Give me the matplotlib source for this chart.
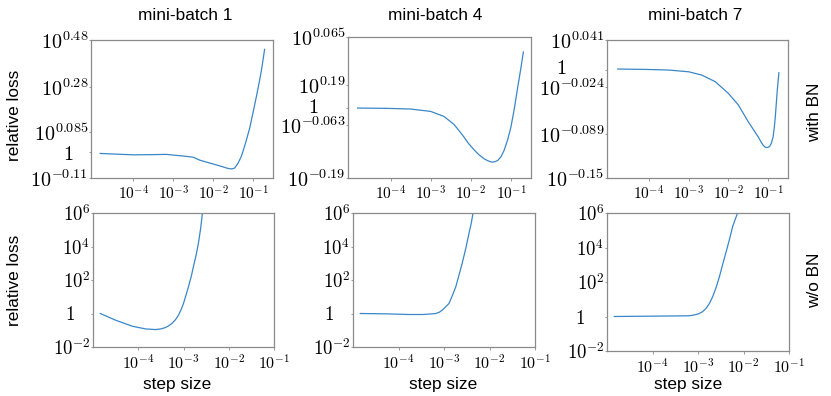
import numpy as np
import matplotlib
matplotlib.use("Agg")
import matplotlib.pyplot as plt
from matplotlib.transforms import ScaledTranslation

plt.rcParams["mathtext.fontset"] = "cm"
plt.rcParams["font.family"] = ["Liberation Sans", "DejaVu Sans"]

titles = ["mini-batch 1", "mini-batch 4", "mini-batch 7"]
row_labels = ["with BN", "w/o BN"]

# curves, as log10(step size) and log10(relative loss)
bn1_x = [-4.83, -4.0, -3.5, -3.17, -3.0, -2.75, -2.5, -2.33, -2.0, -1.8, -1.67, -1.6, -1.54, -1.5, -1.46, -1.42, -1.37,
         -1.3, -1.25, -1.17, -1.08, -1.0, -0.92, -0.85, -0.79, -0.71]
bn1_y = [-0.005, -0.011, -0.010, -0.009, -0.012, -0.016, -0.021, -0.034, -0.05, -0.06, -0.067, -0.070, -0.071, -0.070, -0.067, -0.058, -0.045,
         -0.02, 0.005, 0.05, 0.106, 0.17, 0.235, 0.295, 0.35, 0.44]
bn4_x = [-4.82, -4.08, -3.5, -3.0, -2.67, -2.42, -2.3, -2.17, -2.05, -1.92, -1.8, -1.67, -1.58, -1.5, -1.46, -1.4, -1.33,
         -1.25, -1.17, -1.08, -1.0, -0.92, -0.83, -0.76, -0.69]
bn4_y = [0.0, -0.0006, -0.0018, -0.0062, -0.0154, -0.0301, -0.041, -0.0535, -0.066, -0.0769, -0.086, -0.0935, -0.097, -0.0993, -0.0996, -0.099, -0.0966,
         -0.09, -0.0781, -0.058, -0.0351, -0.003, 0.0387, 0.07, 0.1033]
bn7_x = [-4.79, -4.08, -3.5, -3.0, -2.67, -2.33, -2.0, -1.75, -1.5, -1.25, -1.18, -1.125, -1.08, -1.04, -1.0, -0.96, -0.92,
         -0.875, -0.845, -0.82, -0.795, -0.77, -0.73]
bn7_y = [0.0008, 0.0003, -0.0006, -0.003, -0.0076, -0.0168, -0.033, -0.049, -0.0723, -0.0931, -0.1, -0.1047, -0.107, -0.1079, -0.1075, -0.1061, -0.102,
         -0.0931, -0.08, -0.0654, -0.047, -0.0284, -0.0043]

nobn1_x = [-4.84, -4.5, -4.13, -3.84, -3.62, -3.5, -3.4, -3.33, -3.26, -3.18, -3.11, -3.05, -3.0, -2.95, -2.89, -2.83,
           -2.78, -2.72, -2.67, -2.62, -2.58]
nobn1_y = [0.0, -0.4, -0.76, -0.92, -0.96, -0.92, -0.84, -0.74, -0.6, -0.38, -0.1, 0.25, 0.6, 1.05, 1.6, 2.2,
           2.8, 3.5, 4.2, 5.1, 6.04]
nobn4_x = [-4.84, -4.28, -3.77, -3.47, -3.3, -3.18, -3.1, -3.04, -2.97, -2.89, -2.82, -2.74, -2.67, -2.6, -2.52, -2.45, -2.4, -2.36]
nobn4_y = [0.0, -0.02, -0.06, -0.06, -0.03, 0.0, 0.08, 0.2, 0.38, 0.6, 1.05, 1.6, 2.3, 3.0, 3.9, 4.8, 5.4, 6.04]
nobn7_x = [-4.84, -3.2, -3.1, -2.98, -2.9, -2.83, -2.75, -2.68, -2.6, -2.53, -2.46, -2.39, -2.31, -2.24, -2.18, -2.13]
nobn7_y = [0.0, 0.04, 0.08, 0.16, 0.28, 0.45, 0.75, 1.13, 1.7, 2.3, 3.0, 3.67, 4.45, 5.2, 5.65, 6.0]

# y ticks of the top row (log10 positions) and the labels printed there
bn_ylims = [(-0.11, 0.48), (-0.129, 0.131), (-0.15, 0.041)]
bn_yticks = [[0.48, 0.28, 0.085, 0.0, -0.11],
             [0.131, 0.0418, 0.0, -0.031, -0.129],
             [0.041, 0.0, -0.024, -0.089, -0.15]]
bn_ylabels = [[r"$10^{0.48}$", r"$10^{0.28}$", r"$10^{0.085}$", r"$1$", r"$10^{-0.11}$"],
              [r"$10^{0.065}$", r"$10^{0.19}$", r"$1$", r"$10^{-0.063}$", r"$10^{-0.19}$"],
              [r"$10^{0.041}$", r"$1$", r"$10^{-0.024}$", r"$10^{-0.089}$", r"$10^{-0.15}$"]]
nobn_yticks = [6, 4, 2, 0, -2]
nobn_ylabels = [r"$10^{6}$", r"$10^{4}$", r"$10^{2}$", r"$1$", r"$10^{-2}$"]
xticks = [-4, -3, -2, -1]
xlabels = [r"$10^{-4}$", r"$10^{-3}$", r"$10^{-2}$", r"$10^{-1}$"]

W, H = 831, 396
fig = plt.figure(figsize=(W / 100, H / 100), dpi=100)

def px_axes(x0, y0, x1, y1):
    return fig.add_axes([x0 / W, 1 - y1 / H, (x1 - x0) / W, (y1 - y0) / H])

top_boxes = [(91, 40, 273, 178), (348, 37, 531, 178), (607, 40, 788, 178)]
bot_boxes = [(93, 213, 274, 347), (353, 213, 535, 347), (607, 213, 789, 351)]
# the "1" labels sit left of the others, and a little high in the top row
one_shift_top = [(15, 0), (27, 3), (38, 3)]
one_shift_bot = [(15, 0), (16, 0), (19, 0)]

blue = "#3a87c8"
frame = "#8a8a8a"

def style(ax, xsize, ysize):
    for s in ax.spines.values():
        s.set_color(frame)
        s.set_linewidth(0.9)
    ax.minorticks_off()
    ax.tick_params(axis="both", which="major", width=0.6, color=frame)
    ax.tick_params(axis="x", length=2.5, pad=2, labelsize=xsize)
    ax.tick_params(axis="y", length=1.5, pad=0.5, labelsize=ysize)

def shift_one(ax, dx, dy):
    for lab in ax.get_yticklabels():
        if lab.get_text() == "$1$":
            off = ScaledTranslation(-dx / 100, dy / 100, fig.dpi_scale_trans)
            lab.set_transform(lab.get_transform() + off)

top_data = [(bn1_x, bn1_y), (bn4_x, bn4_y), (bn7_x, bn7_y)]
for i, (xs, ys) in enumerate(top_data):
    ax = px_axes(*top_boxes[i])
    ax.plot(10 ** np.array(xs), 10 ** np.array(ys), color=blue, lw=0.9)
    ax.set_xscale("log")
    ax.set_yscale("log")
    ax.set_xlim(10 ** -5.06, 10 ** -0.5)
    ax.set_ylim(10 ** bn_ylims[i][0], 10 ** bn_ylims[i][1])
    ax.set_xticks([10.0 ** t for t in xticks])
    ax.set_xticklabels(xlabels)
    ax.set_yticks([10.0 ** t for t in bn_yticks[i]])
    ax.set_yticklabels(bn_ylabels[i])
    style(ax, 11, 14.5)
    ax.minorticks_off()
    shift_one(ax, *one_shift_top[i])

bot_data = [(nobn1_x, nobn1_y), (nobn4_x, nobn4_y), (nobn7_x, nobn7_y)]
for i, (xs, ys) in enumerate(bot_data):
    ax = px_axes(*bot_boxes[i])
    ax.plot(10 ** np.array(xs), 10 ** np.array(ys), color=blue, lw=0.9)
    ax.set_xscale("log")
    ax.set_yscale("log")
    ax.set_xlim(1e-5, 1e-1)
    ax.set_ylim(1e-2, 1e6)
    ax.set_xticks([10.0 ** t for t in xticks])
    ax.set_xticklabels(xlabels)
    ax.set_yticks([10.0 ** t for t in nobn_yticks])
    ax.set_yticklabels(nobn_ylabels)
    style(ax, 11.5, 13.5)
    ax.minorticks_off()
    shift_one(ax, *one_shift_bot[i])

ts = 12.4
for x, t in zip([185, 435, 695], titles):
    fig.text(x / W, 1 - 15 / H, t, ha="center", va="center", fontsize=ts)
for y in [115, 280]:
    fig.text(15 / W, 1 - y / H, "relative loss", ha="center", va="center", rotation=90, fontsize=ts)
for x in [177, 443, 688]:
    fig.text(x / W, 1 - 384 / H, "step size", ha="center", va="center", fontsize=ts)
fig.text(815 / W, 1 - 112 / H, row_labels[0], ha="center", va="center", rotation=90, fontsize=ts)
fig.text(815 / W, 1 - 280 / H, row_labels[1], ha="center", va="center", rotation=90, fontsize=ts)

fig.savefig("out.png", dpi=100)
